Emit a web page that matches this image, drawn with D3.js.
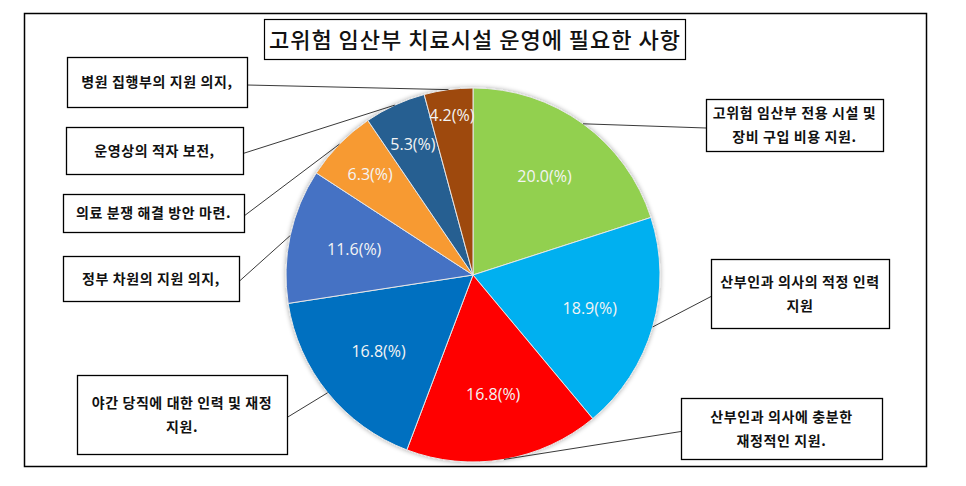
<!DOCTYPE html>
<html>
<head>
<meta charset="utf-8">
<script src="https://cdn.jsdelivr.net/npm/d3@7"></script>
<style>
  body { margin: 0; background: #fff; }
</style>
</head>
<body>
<div id="chart"></div>
<script>
// ---- data ----
const title = '고위험 임산부 치료시설 운영에 필요한 사항';
const categories = [
  '고위험 임산부 전용 시설 및|장비 구입 비용 지원.',
  '산부인과 의사의 적정 인력|지원',
  '산부인과 의사에 충분한|재정적인 지원.',
  '야간 당직에 대한 인력 및 재정|지원.',
  '정부 차원의 지원 의지,',
  '의료 분쟁 해결 방안 마련.',
  '운영상의 적자 보전,',
  '병원 집행부의 지원 의지,'
];
const values = [20.0, 18.9, 16.8, 16.8, 11.6, 6.3, 5.3, 4.2];
const colors = ['#92D050', '#00B0F0', '#FF0000', '#0070C0', '#4472C4', '#F79A32', '#255E91', '#9E480E'];

// callout box layout (same order as categories)
const boxes = [
  { x: 706, y: 99, w: 177, h: 52, side: 'left' },
  { x: 711, y: 259, w: 178, h: 69, side: 'left' },
  { x: 681, y: 398, w: 201, h: 61, side: 'left' },
  { x: 77, y: 375, w: 210, h: 79, side: 'right' },
  { x: 63, y: 256, w: 176, h: 45, side: 'right' },
  { x: 63, y: 194, w: 181, h: 38, side: 'right' },
  { x: 66, y: 127, w: 177, h: 47, side: 'right' },
  { x: 67, y: 57, w: 180, h: 50, side: 'right' }
];

const W = 966, H = 486;
const cx = 473, cy = 275, r = 187;
const krFont = '"Noto Sans CJK KR", "Noto Sans", sans-serif';

const svg = d3.select('#chart').append('svg')
  .attr('width', W)
  .attr('height', H);

const defs = svg.append('defs');
const shadow = defs.append('filter').attr('id', 'shadow')
  .attr('x', '-10%').attr('y', '-10%').attr('width', '120%').attr('height', '120%');
shadow.append('feGaussianBlur').attr('in', 'SourceAlpha').attr('stdDeviation', 2.5);
shadow.append('feComponentTransfer').append('feFuncA').attr('type', 'linear').attr('slope', 0.35);
const merge = shadow.append('feMerge');
merge.append('feMergeNode');
merge.append('feMergeNode').attr('in', 'SourceGraphic');

// outer frame
svg.append('rect')
  .attr('x', 24.5).attr('y', 13.5)
  .attr('width', 902).attr('height', 453)
  .attr('fill', '#fff')
  .attr('stroke', '#000')
  .attr('stroke-width', 1.5);

// title
svg.append('rect')
  .attr('x', 264.5).attr('y', 19.5)
  .attr('width', 421).attr('height', 40)
  .attr('fill', '#fff')
  .attr('stroke', '#000')
  .attr('stroke-width', 1.2);

svg.append('text')
  .attr('x', 475)
  .attr('y', 48)
  .attr('text-anchor', 'middle')
  .style('font-family', krFont)
  .style('font-size', '22px')
  .style('font-weight', 500)
  .style('letter-spacing', '1px')
  .attr('fill', '#111')
  .text(title);

// pie
const pie = d3.pie().sort(null).value(d => d);
const arcs = pie(values);
const arc = d3.arc().innerRadius(0).outerRadius(r);

const g = svg.append('g').attr('transform', `translate(${cx},${cy})`);

g.append('g')
  .attr('filter', 'url(#shadow)')
  .selectAll('path')
  .data(arcs)
  .join('path')
  .attr('d', arc)
  .attr('fill', (d, i) => colors[i])
  .attr('stroke', '#e6e6e6')
  .attr('stroke-width', 1);

// value labels: small slices pushed further out
const labelRadius = v => r * (v < 5 ? 0.86 : v < 8 ? 0.77 : 0.65);
g.selectAll('text.val')
  .data(arcs)
  .join('text')
  .attr('class', 'val')
  .attr('transform', d => {
    const a = (d.startAngle + d.endAngle) / 2;
    const rr = labelRadius(d.value);
    return `translate(${rr * Math.sin(a)},${-rr * Math.cos(a)})`;
  })
  .attr('text-anchor', 'middle')
  .attr('dy', '0.35em')
  .style('font-family', '"Open Sans", "Noto Sans", sans-serif')
  .style('font-size', '16px')
  .attr('fill', '#f4f4f4')
  .text(d => d.value.toFixed(1) + '(%)');

// leader lines
arcs.forEach((d, i) => {
  const a = (d.startAngle + d.endAngle) / 2;
  const px = cx + r * Math.sin(a), py = cy - r * Math.cos(a);
  const b = boxes[i];
  const bx = b.side === 'left' ? b.x : b.x + b.w;
  const by = b.y + b.h / 2 + 3;
  svg.append('line')
    .attr('x1', bx).attr('y1', by)
    .attr('x2', px).attr('y2', py)
    .attr('stroke', '#222')
    .attr('stroke-width', 0.9);
});

// callout boxes
categories.forEach((c, i) => {
  const b = boxes[i];
  const lines = c.split('|');
  svg.append('rect')
    .attr('x', b.x + 0.5).attr('y', b.y + 0.5)
    .attr('width', b.w).attr('height', b.h)
    .attr('fill', '#fff')
    .attr('stroke', '#000')
    .attr('stroke-width', 1.3);
  const lh = 24;
  const t = svg.append('text')
    .attr('text-anchor', 'middle')
    .style('font-family', krFont)
    .style('font-size', '14px')
    .style('font-weight', 700)
    .style('letter-spacing', '0.6px')
    .attr('fill', '#111');
  lines.forEach((ln, k) => {
    t.append('tspan')
      .attr('x', b.x + b.w / 2)
      .attr('y', b.y + b.h / 2 - (lines.length - 1) * lh / 2 + k * lh + 5)
      .text(ln);
  });
});
</script>
</body>
</html>
